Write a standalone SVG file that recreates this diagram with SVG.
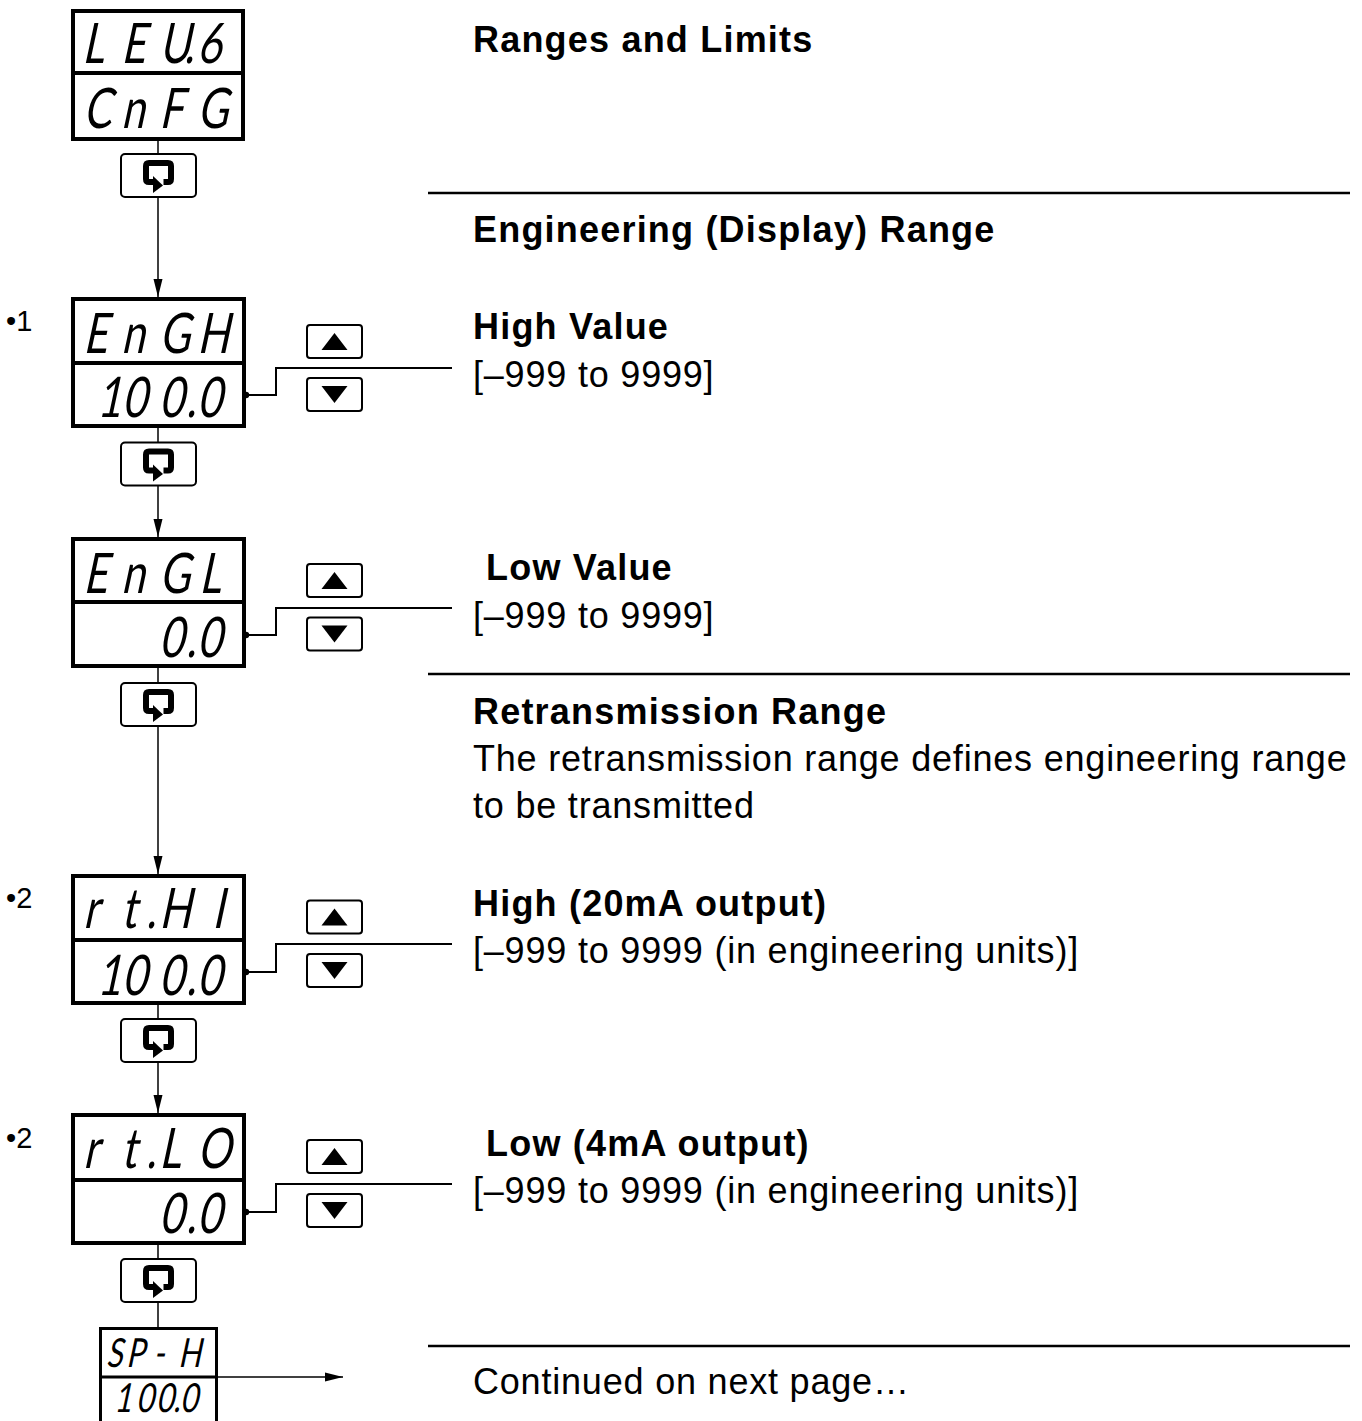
<svg xmlns="http://www.w3.org/2000/svg" xmlns:xlink="http://www.w3.org/1999/xlink" width="1362" height="1421" viewBox="0 0 1362 1421">
<style>
.box{fill:#fff;stroke:#000;stroke-width:4}
.boxs{fill:#fff;stroke:#000;stroke-width:3}
.div{stroke:#000;stroke-width:4}
.btn{fill:#fff;stroke:#000;stroke-width:2}
.seg{font-family:Lato,"Liberation Sans",sans-serif;font-weight:400;font-size:56px;fill:#000}
.segs{font-family:Lato,"Liberation Sans",sans-serif;font-weight:400;font-size:40px;fill:#000}
.h{font-family:"Liberation Sans",Arial,sans-serif;font-weight:bold;font-size:36px;letter-spacing:1.2px;fill:#000}
.t{font-family:"Liberation Sans",Arial,sans-serif;font-size:36px;letter-spacing:0.8px;fill:#000}
.n{font-family:"Liberation Sans",Arial,sans-serif;font-size:29px;fill:#000}
.conn{fill:none;stroke:#000;stroke-width:1.5}
.wire{fill:none;stroke:#000;stroke-width:2}
.sep{stroke:#000;stroke-width:2.5}
</style>
<defs>
<marker id="arr" markerWidth="18" markerHeight="10" refX="18" refY="5" orient="auto" markerUnits="userSpaceOnUse">
<path d="M0,0.5 L18,5 L0,9.5 z" fill="#000"/>
</marker>
<g id="loop">
<rect class="btn" x="-37.5" y="-21.5" width="75" height="43" rx="4"/>
<path d="M5 6.5 L9.5 6.5 Q12.5 6.5 12.5 3.5 L12.5 -9.5 Q12.5 -12.5 9.5 -12.5 L-9.5 -12.5 Q-12.5 -12.5 -12.5 -9.5 L-12.5 3.5 Q-12.5 6.5 -9.5 6.5 L-5 6.5" fill="none" stroke="#000" stroke-width="6" stroke-linejoin="round"/>
<polygon points="-5.5,0.5 4.5,10 -5.5,17.5" fill="#000"/>
</g>
<g id="up">
<rect class="btn" x="-27.5" y="-16.5" width="55" height="33" rx="3"/>
<polygon points="-13,8.5 13,8.5 0,-8.5" fill="#000"/>
</g>
<g id="down">
<rect class="btn" x="-27.5" y="-16.5" width="55" height="33" rx="3"/>
<polygon points="-13,-8.5 13,-8.5 0,8.5" fill="#000"/>
</g>
</defs>
<rect width="1362" height="1421" fill="#fff"/>

<g id="connectors">
<line class="conn" x1="158" y1="141" x2="158" y2="154"/>
<line class="conn" x1="158" y1="197" x2="158" y2="297" marker-end="url(#arr)"/>
<line class="conn" x1="158" y1="428" x2="158" y2="443"/>
<line class="conn" x1="158" y1="485" x2="158" y2="537" marker-end="url(#arr)"/>
<line class="conn" x1="158" y1="668" x2="158" y2="683"/>
<line class="conn" x1="158" y1="726" x2="158" y2="874" marker-end="url(#arr)"/>
<line class="conn" x1="158" y1="1005" x2="158" y2="1019"/>
<line class="conn" x1="158" y1="1062" x2="158" y2="1113" marker-end="url(#arr)"/>
<line class="conn" x1="158" y1="1245" x2="158" y2="1259"/>
<line class="conn" x1="158" y1="1302" x2="158" y2="1327"/>
<line class="conn" x1="218" y1="1377" x2="343" y2="1377" marker-end="url(#arr)"/>
<polyline class="wire" points="246,395 276,395 276,368 452,368"/>
<circle cx="246" cy="395" r="3.2" fill="#000"/>
<polyline class="wire" points="246,635 276,635 276,608 452,608"/>
<circle cx="246" cy="635" r="3.2" fill="#000"/>
<polyline class="wire" points="246,972 276,972 276,944 452,944"/>
<circle cx="246" cy="972" r="3.2" fill="#000"/>
<polyline class="wire" points="246,1212 276,1212 276,1184 452,1184"/>
<circle cx="246" cy="1212" r="3.2" fill="#000"/>
</g>

<g id="disp-lev6">
<rect class="box" x="73" y="11" width="170" height="128"/>
<line class="div" x1="73" y1="73" x2="243" y2="73"/>
<text class="seg" transform="translate(0,63) skewX(-12) scale(0.75,1)" x="109.3 161.3 212 245.3 262.7" y="0">LEU.6</text>
<text class="seg" transform="translate(0,128) skewX(-12) scale(0.75,1)" x="110.7 161.3 212 262.7" y="0">CnFG</text>
</g>
<g id="btn-1"><use xlink:href="#loop" transform="translate(158.5,175.5)"/></g>

<g id="disp-engh">
<text class="n" x="6" y="331">•1</text>
<rect class="box" x="73" y="299" width="171" height="127"/>
<line class="div" x1="73" y1="363" x2="244" y2="363"/>
<text class="seg" transform="translate(0,353) skewX(-12) scale(0.75,1)" x="110.7 161.3 212 262.7" y="0">EnGH</text>
<text class="seg" transform="translate(0,417) skewX(-12) scale(0.75,1)" x="129 162.7 212 248 262.7" y="0">100.0</text>
</g>
<g id="updown-engh">
<use xlink:href="#up" transform="translate(334.5,341.5)"/>
<use xlink:href="#down" transform="translate(334.5,394.5)"/>
</g>
<g id="btn-2"><use xlink:href="#loop" transform="translate(158.5,464)"/></g>

<g id="disp-engl">
<rect class="box" x="73" y="539" width="171" height="127"/>
<line class="div" x1="73" y1="602" x2="244" y2="602"/>
<text class="seg" transform="translate(0,593) skewX(-12) scale(0.75,1)" x="110.7 161.3 212 265.3" y="0">EnGL</text>
<text class="seg" transform="translate(0,657) skewX(-12) scale(0.75,1)" x="212 248 262.7" y="0">0.0</text>
</g>
<g id="updown-engl">
<use xlink:href="#up" transform="translate(334.5,580.5)"/>
<use xlink:href="#down" transform="translate(334.5,634)"/>
</g>
<g id="btn-3"><use xlink:href="#loop" transform="translate(158.5,704.5)"/></g>

<g id="disp-rthi">
<text class="n" x="6" y="908">•2</text>
<rect class="box" x="73" y="876" width="171" height="127"/>
<line class="div" x1="73" y1="940" x2="244" y2="940"/>
<text class="seg" transform="translate(0,928) skewX(-12) scale(0.75,1)" x="110.7 161.3 194.7 212 282.7" y="0">rt.HI</text>
<text class="seg" transform="translate(0,995) skewX(-12) scale(0.75,1)" x="129 162.7 212 248 262.7" y="0">100.0</text>
</g>
<g id="updown-rthi">
<use xlink:href="#up" transform="translate(334.5,917)"/>
<use xlink:href="#down" transform="translate(334.5,970.5)"/>
</g>
<g id="btn-4"><use xlink:href="#loop" transform="translate(158.5,1040.5)"/></g>

<g id="disp-rtlo">
<text class="n" x="6" y="1148">•2</text>
<rect class="box" x="73" y="1115" width="171" height="128"/>
<line class="div" x1="73" y1="1180" x2="244" y2="1180"/>
<text class="seg" transform="translate(0,1168) skewX(-12) scale(0.75,1)" x="110.7 161.3 194.7 212 262.7" y="0">rt.LO</text>
<text class="seg" transform="translate(0,1233) skewX(-12) scale(0.75,1)" x="212 248 262.7" y="0">0.0</text>
</g>
<g id="updown-rtlo">
<use xlink:href="#up" transform="translate(334.5,1156.5)"/>
<use xlink:href="#down" transform="translate(334.5,1210.5)"/>
</g>
<g id="btn-5"><use xlink:href="#loop" transform="translate(158.5,1280.5)"/></g>

<g id="disp-sph">
<rect class="boxs" x="100.5" y="1328.5" width="116" height="100"/>
<line class="boxs" x1="100.5" y1="1377" x2="216.5" y2="1377"/>
<text class="segs" transform="translate(0,1367) skewX(-12) scale(0.75,1)" x="141.3 168 204 237.3" y="0">SP-H</text>
<text class="segs" transform="translate(0,1412) skewX(-12) scale(0.75,1)" x="152 181.3 208 230.7 240" y="0">100.0</text>
</g>

<g id="descriptions">
<text class="h" x="473" y="52">Ranges and Limits</text>
<line class="sep" x1="428" y1="193" x2="1350" y2="193"/>
<text class="h" x="473" y="242">Engineering (Display) Range</text>
<text class="h" x="473" y="339">High Value</text>
<text class="t" x="473" y="387">[–999 to 9999]</text>
<text class="h" x="486" y="580">Low Value</text>
<text class="t" x="473" y="628">[–999 to 9999]</text>
<line class="sep" x1="428" y1="674" x2="1350" y2="674"/>
<text class="h" x="473" y="724">Retransmission Range</text>
<text class="t" x="473" y="771">The retransmission range defines engineering range</text>
<text class="t" x="473" y="818">to be transmitted</text>
<text class="h" x="473" y="916">High (20mA output)</text>
<text class="t" x="473" y="963">[–999 to 9999 (in engineering units)]</text>
<text class="h" x="486" y="1156">Low (4mA output)</text>
<text class="t" x="473" y="1203">[–999 to 9999 (in engineering units)]</text>
<line class="sep" x1="428" y1="1346" x2="1350" y2="1346"/>
<text class="t" x="473" y="1394">Continued on next page…</text>
</g>
</svg>
